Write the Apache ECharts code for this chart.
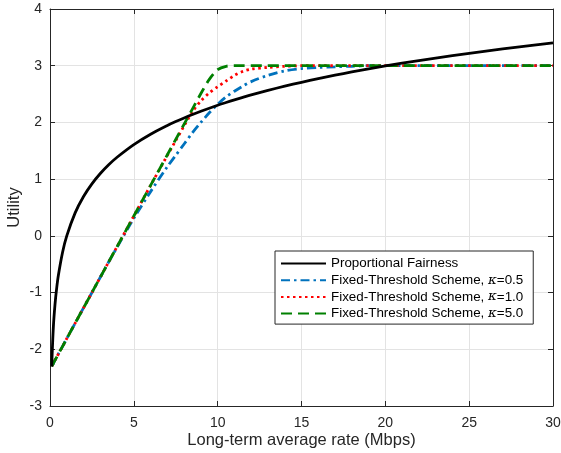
<!DOCTYPE html>
<html>
<head>
<meta charset="utf-8">
<script src="https://cdn.jsdelivr.net/npm/echarts@6/dist/echarts.min.js"></script>
<style>
html,body{margin:0;padding:0;background:#fff;}
#chart{width:561px;height:453px;}
</style>
</head>
<body>
<div id="chart"></div>
<script>
// Rate samples (Mbps)
var rates = [0.1, 0.2, 0.3, 0.4, 0.5, 0.75, 1, 1.5, 2, 2.5, 3, 3.5, 4, 5, 6, 7, 7.5, 8, 8.5, 9, 9.5, 10, 10.5, 11, 11.5, 12, 13, 14, 15, 16, 17, 18, 19, 20, 22, 24, 26, 28, 30];
// Proportional Fairness utility
var pfValues = [-2.303, -1.609, -1.204, -0.916, -0.693, -0.288, 0, 0.405, 0.693, 0.916, 1.099, 1.253, 1.386, 1.609, 1.792, 1.946, 2.015, 2.079, 2.140, 2.197, 2.251, 2.303, 2.351, 2.398, 2.442, 2.485, 2.565, 2.639, 2.708, 2.773, 2.833, 2.890, 2.944, 2.996, 3.091, 3.178, 3.258, 3.332, 3.401];
// Fixed-Threshold, kappa = 0.5
var k05Values = [-2.30, -2.25, -2.19, -2.14, -2.08, -1.95, -1.81, -1.54, -1.27, -1.00, -0.73, -0.46, -0.20, 0.31, 0.78, 1.22, 1.42, 1.62, 1.82, 2.00, 2.17, 2.32, 2.45, 2.55, 2.64, 2.72, 2.83, 2.91, 2.95, 2.97, 2.98, 2.99, 3.00, 3.00, 3.00, 3.00, 3.00, 3.00, 3.00];
// Fixed-Threshold, kappa = 1.0
var k10Values = [-2.30, -2.25, -2.19, -2.14, -2.08, -1.95, -1.81, -1.54, -1.27, -1.00, -0.73, -0.46, -0.19, 0.35, 0.89, 1.42, 1.68, 1.94, 2.19, 2.38, 2.52, 2.63, 2.73, 2.83, 2.90, 2.94, 2.97, 2.99, 3.00, 3.00, 3.00, 3.00, 3.00, 3.00, 3.00, 3.00, 3.00, 3.00, 3.00];
// Fixed-Threshold, kappa = 5.0
var k50Values = [-2.30, -2.25, -2.19, -2.14, -2.08, -1.95, -1.81, -1.54, -1.27, -1.00, -0.73, -0.46, -0.19, 0.35, 0.89, 1.43, 1.70, 1.97, 2.24, 2.51, 2.76, 2.93, 2.99, 3.00, 3.00, 3.00, 3.00, 3.00, 3.00, 3.00, 3.00, 3.00, 3.00, 3.00, 3.00, 3.00, 3.00, 3.00, 3.00];
var seriesNames = ['Proportional Fairness', 'Fixed-Threshold Scheme, κ=0.5', 'Fixed-Threshold Scheme, κ=1.0', 'Fixed-Threshold Scheme, κ=5.0'];
var xTicks = [0, 5, 10, 15, 20, 25, 30];
var yTicks = [-3, -2, -1, 0, 1, 2, 3, 4];

function pairs(vals) { return rates.map(function (r, i) { return [r, vals[i]]; }); }

var FONT = '"Liberation Sans", Arial, Helvetica, sans-serif';
var chart = echarts.init(document.getElementById('chart'), null, {renderer: 'canvas'});
var axisLine = {show: true, onZero: false, lineStyle: {color: '#262626', width: 1}};
var tick = {show: true, inside: true, length: 5, lineStyle: {color: '#262626'}};
var option = {
  backgroundColor: '#ffffff',
  animation: false,
  grid: {left: 50, right: 8, top: 9, bottom: 47, show: false, containLabel: false, outerBoundsMode: 'none'},
  xAxis: [{
    type: 'value', min: xTicks[0], max: xTicks[xTicks.length - 1], interval: 5,
    axisLine: axisLine, axisTick: tick,
    axisLabel: {color: '#262626', fontSize: 14, fontFamily: FONT, margin: 10},
    splitLine: {show: true, lineStyle: {color: '#e3e3e3', width: 1}},
    name: 'Long-term average rate (Mbps)', nameLocation: 'middle', nameGap: 26, nameMoveOverlap: false,
    nameTextStyle: {color: '#262626', fontSize: 16.5, fontFamily: FONT}
  }, {
    type: 'value', min: xTicks[0], max: xTicks[xTicks.length - 1], interval: 5, position: 'top',
    axisLine: axisLine, axisTick: tick,
    axisLabel: {show: false}, splitLine: {show: false}
  }],
  yAxis: [{
    type: 'value', min: yTicks[0], max: yTicks[yTicks.length - 1], interval: 1,
    axisLine: axisLine, axisTick: tick,
    axisLabel: {color: '#262626', fontSize: 14, fontFamily: FONT, margin: 8},
    splitLine: {show: true, lineStyle: {color: '#e3e3e3', width: 1}},
    name: 'Utility', nameLocation: 'middle', nameGap: 27, nameRotate: 90, nameMoveOverlap: false,
    nameTextStyle: {color: '#262626', fontSize: 16.5, fontFamily: FONT}
  }, {
    type: 'value', min: yTicks[0], max: yTicks[yTicks.length - 1], interval: 1, position: 'right',
    axisLine: axisLine, axisTick: tick,
    axisLabel: {show: false}, splitLine: {show: false}
  }],
  legend: {
    show: true, orient: 'vertical', left: 275, top: 251,
    backgroundColor: '#ffffff', borderColor: '#262626', borderWidth: 1,
    padding: [6, 10, 4, 5], itemGap: 3.7, itemWidth: 45, itemHeight: 14,
    itemStyle: {opacity: 0},
    textStyle: {color: '#000', fontSize: 13.4, fontFamily: FONT,
      rich: {k: {fontSize: 13.4, fontStyle: 'italic', fontFamily: '"DejaVu Serif", serif', color: '#000'}}},
    formatter: function (name) { return name.replace('κ', '{k|κ}'); },
    data: seriesNames
  },
  series: [{
    name: seriesNames[0], type: 'line', data: pairs(pfValues), showSymbol: false, symbol: 'none', smooth: 0.3,
    lineStyle: {color: '#000000', width: 2.8, type: 'solid'}, itemStyle: {color: '#000000'}, z: 5
  }, {
    name: seriesNames[1], type: 'line', data: pairs(k05Values), showSymbol: false, symbol: 'none', smooth: 0.3,
    lineStyle: {color: '#0072BD', width: 2.8, type: [9, 4, 2.5, 4]}, itemStyle: {color: '#0072BD'}, z: 4
  }, {
    name: seriesNames[2], type: 'line', data: pairs(k10Values), showSymbol: false, symbol: 'none', smooth: 0.3,
    lineStyle: {color: '#FF0000', width: 2.8, type: [2.5, 3.5]}, itemStyle: {color: '#FF0000'}, z: 4
  }, {
    name: seriesNames[3], type: 'line', data: pairs(k50Values), showSymbol: false, symbol: 'none', smooth: 0.3,
    lineStyle: {color: '#008000', width: 2.8, type: [11, 6]}, itemStyle: {color: '#008000'}, z: 4
  }]
};
chart.setOption(option);
</script>
</body>
</html>
